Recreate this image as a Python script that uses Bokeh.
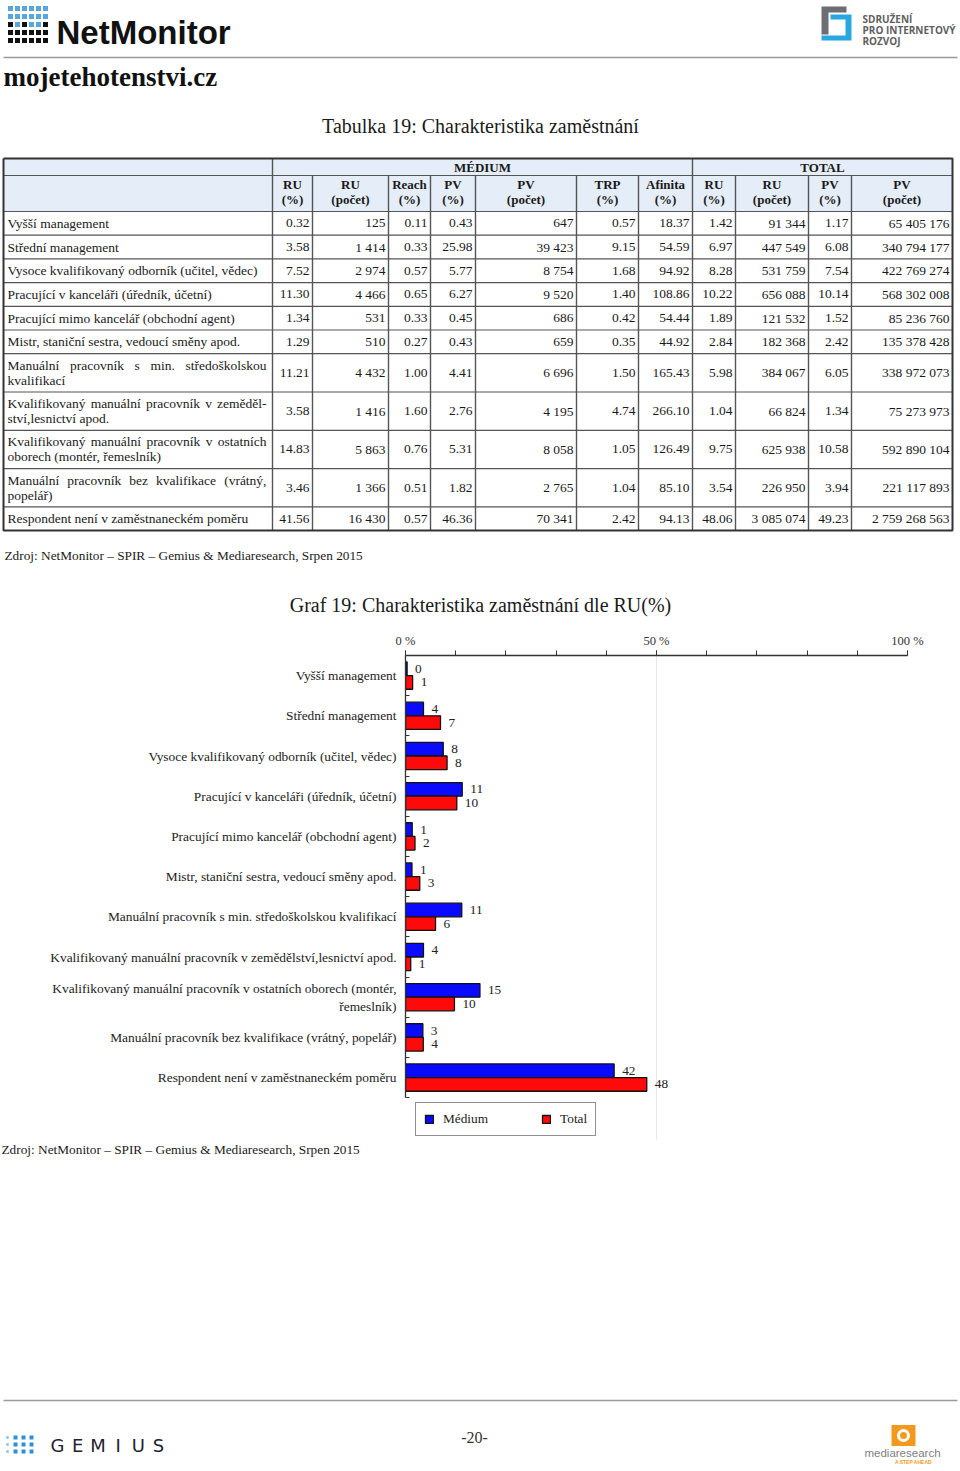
from bokeh.plotting import figure
from bokeh.models import Range1d, FixedTicker, Legend, LegendItem, ColumnDataSource
from bokeh.embed import file_html
from bokeh.resources import INLINE
from bokeh.core.properties import value

SERIF = "Liberation Serif"
SANS = "Liberation Sans"

# ---------------- data ----------------
table_labels = [
    ["Vyšší management"],
    ["Střední management"],
    ["Vysoce kvalifikovaný odborník (učitel, vědec)"],
    ["Pracující v kanceláři (úředník, účetní)"],
    ["Pracující mimo kancelář (obchodní agent)"],
    ["Mistr, staniční sestra, vedoucí směny apod."],
    ["Manuální pracovník s min. středoškolskou", "kvalifikací"],
    ["Kvalifikovaný manuální pracovník v zeměděl-", "ství,lesnictví apod."],
    ["Kvalifikovaný manuální pracovník v ostatních", "oborech (montér, řemeslník)"],
    ["Manuální pracovník bez kvalifikace (vrátný,", "popelář)"],
    ["Respondent není v zaměstnaneckém poměru"],
]
chart_labels = [
    "Vyšší management",
    "Střední management",
    "Vysoce kvalifikovaný odborník (učitel, vědec)",
    "Pracující v kanceláři (úředník, účetní)",
    "Pracující mimo kancelář (obchodní agent)",
    "Mistr, staniční sestra, vedoucí směny apod.",
    "Manuální pracovník s min. středoškolskou kvalifikací",
    "Kvalifikovaný manuální pracovník v zemědělství,lesnictví apod.",
    "Kvalifikovaný manuální pracovník v ostatních oborech (montér,\nřemeslník)",
    "Manuální pracovník bez kvalifikace (vrátný, popelář)",
    "Respondent není v zaměstnaneckém poměru",
]
col_headers = [("RU", "(%)"), ("RU", "(počet)"), ("Reach", "(%)"), ("PV", "(%)"),
               ("PV", "(počet)"), ("TRP", "(%)"), ("Afinita", "(%)"),
               ("RU", "(%)"), ("RU", "(počet)"), ("PV", "(%)"), ("PV", "(počet)")]
group_headers = ["MÉDIUM", "TOTAL"]

med_ru_pct = [0.32, 3.58, 7.52, 11.30, 1.34, 1.29, 11.21, 3.58, 14.83, 3.46, 41.56]
med_ru_cnt = [125, 1414, 2974, 4466, 531, 510, 4432, 1416, 5863, 1366, 16430]
med_reach = [0.11, 0.33, 0.57, 0.65, 0.33, 0.27, 1.00, 1.60, 0.76, 0.51, 0.57]
med_pv_pct = [0.43, 25.98, 5.77, 6.27, 0.45, 0.43, 4.41, 2.76, 5.31, 1.82, 46.36]
med_pv_cnt = [647, 39423, 8754, 9520, 686, 659, 6696, 4195, 8058, 2765, 70341]
med_trp = [0.57, 9.15, 1.68, 1.40, 0.42, 0.35, 1.50, 4.74, 1.05, 1.04, 2.42]
med_afinita = [18.37, 54.59, 94.92, 108.86, 54.44, 44.92, 165.43, 266.10, 126.49, 85.10, 94.13]
tot_ru_pct = [1.42, 6.97, 8.28, 10.22, 1.89, 2.84, 5.98, 1.04, 9.75, 3.54, 48.06]
tot_ru_cnt = [91344, 447549, 531759, 656088, 121532, 182368, 384067, 66824, 625938, 226950, 3085074]
tot_pv_pct = [1.17, 6.08, 7.54, 10.14, 1.52, 2.42, 6.05, 1.34, 10.58, 3.94, 49.23]
tot_pv_cnt = [65405176, 340794177, 422769274, 568302008, 85236760, 135378428,
              338972073, 75273973, 592890104, 221117893, 2759268563]

x_ticks = [0, 50, 100]
x_tick_labels = ["0 %", "50 %", "100 %"]
series_names = ["Médium", "Total"]

source_text = "Zdroj: NetMonitor – SPIR – Gemius & Mediaresearch, Srpen 2015"
table_title = "Tabulka 19: Charakteristika zaměstnání"
chart_title = "Graf 19: Charakteristika zaměstnání dle RU(%)"


def fmt_int(v):
    return f"{v:,}".replace(",", " ")


def fmt_f(v):
    return f"{v:.2f}"


table_columns = [
    (med_ru_pct, fmt_f), (med_ru_cnt, fmt_int), (med_reach, fmt_f), (med_pv_pct, fmt_f),
    (med_pv_cnt, fmt_int), (med_trp, fmt_f), (med_afinita, fmt_f),
    (tot_ru_pct, fmt_f), (tot_ru_cnt, fmt_int), (tot_pv_pct, fmt_f), (tot_pv_cnt, fmt_int),
]

# rough Times-like advance widths (per 1000 em) used to justify wrapped table lines
_W = {"a": 444, "b": 500, "c": 444, "d": 500, "e": 444, "f": 333, "g": 500, "h": 500, "i": 278,
      "j": 278, "k": 500, "l": 278, "m": 778, "n": 500, "o": 500, "p": 500, "r": 333, "s": 389,
      "t": 278, "u": 500, "v": 500, "w": 722, "y": 500, "z": 444, ".": 250, ",": 250, "(": 333,
      ")": 333, "-": 333, "M": 889, "K": 722}


def est_width(word, size):
    base = "".join({"á": "a", "é": "e", "í": "i", "ý": "y", "ř": "r", "č": "c", "ě": "e",
                    "š": "s", "ž": "z", "ů": "u", "ú": "u"}.get(ch, ch) for ch in word)
    return sum(_W.get(ch, 500) for ch in base) * size / 1000.0


# ---------------- layout helpers ----------------
W = 960
X0, X1 = 0, 960


def page_fig(y0, y1):
    p = figure(width=W, height=int(y1 - y0), x_range=Range1d(X0, X1), y_range=Range1d(y1, y0),
               output_backend="svg", toolbar_location=None, min_border=0,
               x_axis_location=None, y_axis_location=None)
    p.grid.visible = False
    p.outline_line_color = None
    p.background_fill_color = "white"
    p.border_fill_color = "white"
    return p


def txt(p, x, y, t, size="13px", align="left", font=SERIF, style="normal", color="#1a1a1a",
        baseline="middle"):
    p.text(x=[x], y=[y], text=[t], text_font=value(font), text_font_size=size,
           text_font_style=style, text_align=align, text_baseline=baseline, text_color=color)


# ================= TOP =================
top = page_fig(0, 622)

icon_pattern = ["bbbbbb", "bbbbbb", "kbkbbk", "kkkkkk", "kkkkkk"]
ix, iy, ic = [], [], []
for r, row in enumerate(icon_pattern):
    for c, ch in enumerate(row):
        ix.append(10 + c * 7)
        iy.append(8 + r * 8)
        ic.append("#58a6da" if ch == "b" else "#111111")
top.rect(x=ix, y=iy, width=5, height=5, fill_color=ic, line_color=None)
txt(top, 56, 32, "NetMonitor", size="33px", font=SANS, style="bold", color="#111")
top.line([3, 957], [57, 57], line_color="#9a9a9a", line_width=1.5)
txt(top, 3, 76, "mojetehotenstvi.cz", size="27px", style="bold", color="#111")

top.patches(xs=[[821, 846, 846, 828, 828, 821], [830, 851, 851, 821, 821, 845, 845, 830]],
            ys=[[6, 6, 12, 12, 34, 34], [14, 14, 40, 40, 35, 35, 19, 19]],
            fill_color=["#6d6e71", "#2aa7df"], line_color=None)
for k, t in enumerate(["SDRUŽENÍ", "PRO INTERNETOVÝ", "ROZVOJ"]):
    txt(top, 862, 18 + 11 * k, t, size="10px", font="Open Sans", style="bold", color="#5f5f62")

txt(top, 480, 125, table_title, size="20px", align="center")

# ---- table ----
cols = [3, 272, 312, 388, 430, 475, 576, 638, 692, 735, 808, 851, 952]
hdr_top, hdr_mid, hdr_bot = 158, 175, 211
row_bounds = [hdr_bot]
for lab in table_labels:
    row_bounds.append(row_bounds[-1] + (23.7 if len(lab) == 1 else 38.3))

top.quad(left=[cols[0]], right=[cols[-1]], top=[hdr_top], bottom=[hdr_bot],
         fill_color="#e4edf8", line_color=None)

hx, hy = [], []
for yb in [hdr_mid] + row_bounds[:-1]:
    hx.append([cols[0], cols[-1]]); hy.append([yb, yb])
top.multi_line(hx, hy, line_color="#555555", line_width=1.2)
vx, vy = [], []
for c in cols[1:-1]:
    y_start = hdr_top if c in (272, 692) else hdr_mid
    vx.append([c, c]); vy.append([y_start, row_bounds[-1]])
top.multi_line(vx, vy, line_color="#555555", line_width=1.4)
top.line([cols[0], cols[-1], cols[-1], cols[0], cols[0]],
         [hdr_top, hdr_top, row_bounds[-1], row_bounds[-1], hdr_top],
         line_color="#333333", line_width=2)

txt(top, (cols[1] + cols[8]) / 2, (hdr_top + hdr_mid) / 2 + 0.5, group_headers[0], size="13px",
    align="center", style="bold")
txt(top, (cols[8] + cols[12]) / 2, (hdr_top + hdr_mid) / 2 + 0.5, group_headers[1], size="13px",
    align="center", style="bold")
hx_, hy_, ht_ = [], [], []
for j, (a, b) in enumerate(col_headers):
    cx = (cols[j + 1] + cols[j + 2]) / 2
    hx_ += [cx, cx]; hy_ += [184, 199]; ht_ += [a, b]
top.text(x=hx_, y=hy_, text=ht_, text_font=value(SERIF), text_font_size="13px",
         text_font_style="bold", text_align="center", text_baseline="middle", text_color="#1a1a1a")

# row labels (first line of wrapped labels is justified across the cell)
FS = 13.5
lab_left, lab_right = 7, 266
lx, ly, lt = [], [], []
for i, lab in enumerate(table_labels):
    yc = (row_bounds[i] + row_bounds[i + 1]) / 2
    if len(lab) == 1:
        lx.append(lab_left); ly.append(yc); lt.append(lab[0])
    else:
        words = lab[0].split()
        widths = [est_width(w, FS) for w in words]
        gap = (lab_right - lab_left - sum(widths)) / (len(words) - 1)
        xpos = lab_left
        for w, wd in zip(words, widths):
            lx.append(xpos); ly.append(yc - 7.5); lt.append(w)
            xpos += wd + gap
        lx.append(lab_left); ly.append(yc + 7.5); lt.append(lab[1])
top.text(x=lx, y=ly, text=lt, text_font=value(SERIF), text_font_size=f"{FS}px",
         text_align="left", text_baseline="middle", text_color="#1a1a1a")

nx, ny, nt = [], [], []
for j, (vals, f) in enumerate(table_columns):
    xr = cols[j + 2] - 3
    for i, v in enumerate(vals):
        nx.append(xr); ny.append((row_bounds[i] + row_bounds[i + 1]) / 2); nt.append(f(v))
top.text(x=nx, y=ny, text=nt, text_font=value(SERIF), text_font_size=f"{FS}px",
         text_align="right", text_baseline="middle", text_color="#1a1a1a")

txt(top, 4, 555, source_text, size="13.3px")
txt(top, 480, 604, chart_title, size="20px", align="center")

# ================= CHART =================
n = len(chart_labels)
CH_Y0, CH_Y1 = 622, 1140
frame_top = 655
frame_left, frame_right = 405, 907
cat_px = 40.2
y_bottom = -0.5 + (CH_Y1 - frame_top) / cat_px

pc = figure(width=W, height=CH_Y1 - CH_Y0, x_range=Range1d(0, 100),
            y_range=Range1d(y_bottom, -0.5), x_axis_location="above",
            output_backend="svg", toolbar_location=None,
            min_border_left=frame_left, min_border_right=W - frame_right,
            min_border_top=frame_top - CH_Y0, min_border_bottom=0)
pc.outline_line_color = None
pc.background_fill_color = "white"
pc.border_fill_color = "white"

src = ColumnDataSource(dict(
    y_med=[i - 0.17 for i in range(n)],
    y_tot=[i + 0.17 for i in range(n)],
    med=med_ru_pct, tot=tot_ru_pct,
    med_lbl=[str(round(v)) for v in med_ru_pct],
    tot_lbl=[str(round(v)) for v in tot_ru_pct],
))
r_med = pc.hbar(y="y_med", left=0, right="med", height=0.34, fill_color="#0a0aff",
                line_color="#111111", line_width=1.3, source=src)
r_tot = pc.hbar(y="y_tot", left=0, right="tot", height=0.34, fill_color="#ff0a0a",
                line_color="#111111", line_width=1.3, source=src)
for col_x, col_y, col_t in [("med", "y_med", "med_lbl"), ("tot", "y_tot", "tot_lbl")]:
    pc.text(x=col_x, y=col_y, text=col_t, x_offset=8, source=src, text_font=value(SERIF),
            text_font_size="13.3px", text_align="left", text_baseline="middle", text_color="#222222")

xa = pc.xaxis[0]
xa.ticker = FixedTicker(ticks=x_ticks, minor_ticks=list(range(0, 101, 10)))
xa.major_label_overrides = dict(zip(x_ticks, x_tick_labels))
xa.major_tick_in = 0
xa.major_tick_out = 5
xa.minor_tick_in = 0
xa.minor_tick_out = 5
xa.axis_line_color = "#333333"
xa.axis_line_width = 1.3
xa.major_tick_line_color = "#333333"
xa.minor_tick_line_color = "#333333"
xa.major_label_standoff = 3
xa.major_label_text_font = SERIF
xa.major_label_text_font_size = "12.5px"
xa.major_label_text_color = "#333333"

ya = pc.yaxis[0]
ya.ticker = FixedTicker(ticks=list(range(n)), minor_ticks=[i - 0.5 for i in range(n + 1)])
ya.major_label_overrides = {i: chart_labels[i] for i in range(n)}
ya.bounds = (-0.5, n - 0.5)
ya.major_tick_in = 0
ya.major_tick_out = 0
ya.minor_tick_in = 4
ya.minor_tick_out = 0
ya.axis_line_color = "#333333"
ya.axis_line_width = 1.3
ya.minor_tick_line_color = "#333333"
ya.major_label_standoff = 9
ya.major_label_text_font = SERIF
ya.major_label_text_font_size = "13.4px"
ya.major_label_text_color = "#222222"

pc.xgrid.ticker = FixedTicker(ticks=[50, 100])
pc.xgrid.grid_line_color = "#e8e8e8"
pc.ygrid.visible = False

legend = Legend(items=[LegendItem(label=series_names[0], renderers=[r_med]),
                       LegendItem(label=series_names[1], renderers=[r_tot])],
                orientation="horizontal", location=(10, 4), margin=0, padding=8,
                spacing=53, glyph_width=10, glyph_height=10, label_standoff=9,
                label_height=11, label_text_font=SERIF, label_text_font_size="13.3px",
                label_text_color="#222222", border_line_color="#222222",
                border_line_width=1.5, background_fill_color="white", background_fill_alpha=1)
pc.add_layout(legend)

# ================= BOTTOM =================
bot = page_fig(1140, 1471)
txt(bot, 1, 1149, source_text, size="13.3px")
bot.line([3, 957], [1400, 1400], line_color="#9a9a9a", line_width=1.5)
txt(bot, 474, 1437, "-20-", size="16px", font="Liberation Sans Narrow", color="#333333", align="center")

gx, gy, gc, gs = [], [], [], []
for r in range(3):
    for c in range(4):
        gx.append(7 + c * 8); gy.append(1437 + r * 7)
        gc.append("#7fbce6" if c == 0 else "#2f8fd8")
        gs.append(2.5 if c == 0 else 4)
bot.rect(x=gx, y=gy, width=gs, height=gs, fill_color=gc, line_color=None)
for k, ch in enumerate("GEMIUS"):
    txt(bot, 57 + k * 20.2, 1445, ch, size="18px", font="DejaVu Sans", color="#1f2330", align="center")

bot.rect(x=[903], y=[1435], width=24, height=21, fill_color="#f39a1e", line_color=None)
bot.annulus(x=[903], y=[1435], inner_radius=3.5, outer_radius=6.5, fill_color="white",
            line_color=None)
txt(bot, 902, 1452, "mediaresearch", size="11.5px", font=SANS, color="#808080", align="center")
txt(bot, 913, 1461, "A STEP AHEAD", size="5px", font=SANS, style="bold", color="#f39a1e", align="center")

open("out.html", "w").write(file_html([top, pc, bot], INLINE))
